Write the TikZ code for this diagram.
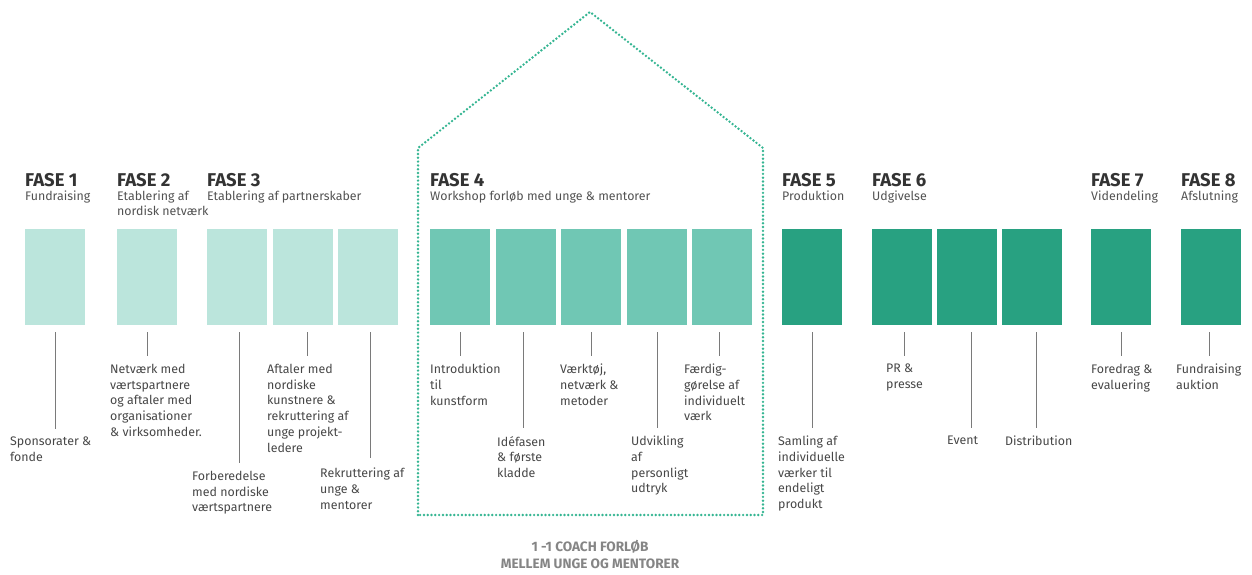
\documentclass[tikz,border=0pt]{standalone}
\usepackage{fontspec}
\setmainfont{Fira Sans}
\usetikzlibrary{positioning}

\definecolor{faselys}{HTML}{BBE5DC}
\definecolor{fasemid}{HTML}{70C7B4}
\definecolor{fasemork}{HTML}{28A181}
\definecolor{husprik}{HTML}{35B592}
\definecolor{tekstgraa}{HTML}{333333}
\definecolor{stregraa}{HTML}{7A7A7A}

\begin{document}
\begin{tikzpicture}[x=1pt, y=-1pt,
    felt/.style={anchor=north west, minimum width=60pt, minimum height=96pt, inner sep=0pt},
    fase/.style={anchor=base west, inner sep=0pt, text=tekstgraa, font=\fontsize{18.5}{20}\selectfont\bfseries},
    undertekst/.style={anchor=north west, inner sep=0pt, align=left, text=tekstgraa!85, font=\fontsize{12.4}{15}\selectfont},
    punkt/.style={anchor=north west, inner sep=0pt, align=left, text=tekstgraa!90, font=\fontsize{12.4}{15.7}\selectfont},
    streg/.style={draw=stregraa, line width=0.8pt}]

    \useasboundingbox (0,0) rectangle (1252,575);

    % dotted house round fase 4
    \draw[husprik, line width=2.7pt, line cap=round, dash pattern=on 0pt off 3.8pt]
        (418,515) -- (418,148) -- (590,12) -- (763,148) -- (763,515) -- cycle;

    \node[fase] (f1) at (25,186) {FASE 1};
    \node[fase] (f2) at (117,186) {FASE 2};
    \node[fase] (f3) at (207,186) {FASE 3};
    \node[fase] (f4) at (430,186) {FASE 4};
    \node[fase] (f5) at (782,186) {FASE 5};
    \node[fase] (f6) at (872,186) {FASE 6};
    \node[fase] (f7) at (1091,186) {FASE 7};
    \node[fase] (f8) at (1181,186) {FASE 8};

    \node[undertekst] (u1) at (25,191) {Fundraising};
    \node[undertekst] (u2) at (117,191) {Etablering af\\nordisk netværk};
    \node[undertekst] (u3) at (207,191) {Etablering af partnerskaber};
    \node[undertekst] (u4) at (430,191) {Workshop forløb med unge \& mentorer};
    \node[undertekst] (u5) at (782,191) {Produktion};
    \node[undertekst] (u6) at (872,191) {Udgivelse};
    \node[undertekst] (u7) at (1091,191) {Videndeling};
    \node[undertekst] (u8) at (1181,191) {Afslutning};

    \node[felt, fill=faselys] (b1) at (25,229) {};
    \node[felt, fill=faselys] (b2) at (117,229) {};
    \node[felt, fill=faselys] (b31) at (207,229) {};
    \node[felt, fill=faselys] (b32) at (273,229) {};
    \node[felt, fill=faselys] (b33) at (338,229) {};

    \node[felt, fill=fasemid] (b41) at (430,229) {};
    \node[felt, fill=fasemid] (b42) at (496,229) {};
    \node[felt, fill=fasemid] (b43) at (561,229) {};
    \node[felt, fill=fasemid] (b44) at (627,229) {};
    \node[felt, fill=fasemid] (b45) at (692,229) {};

    \node[felt, fill=fasemork] (b5) at (782,229) {};
    \node[felt, fill=fasemork] (b61) at (872,229) {};
    \node[felt, fill=fasemork] (b62) at (937,229) {};
    \node[felt, fill=fasemork] (b63) at (1002,229) {};
    \node[felt, fill=fasemork] (b7) at (1091,229) {};
    \node[felt, fill=fasemork] (b8) at (1181,229) {};

    \node[punkt] (p1) at (10,437) {Sponsorater \&\\fonde};
    \node[punkt] (p2) at (110,364) {Netværk med\\værtspartnere\\og aftaler med\\organisationer\\\& virksomheder.};
    \node[punkt] (p31) at (192,471) {Forberedelse\\med nordiske\\værtspartnere};
    \node[punkt] (p32) at (267,364) {Aftaler med\\nordiske\\kunstnere \&\\rekruttering af\\unge projekt-\\ledere};
    \node[punkt] (p33) at (320,468) {Rekruttering af\\unge \&\\mentorer};

    \node[punkt] (p41) at (430,364) {Introduktion\\til\\kunstform};
    \node[punkt] (p42) at (497,436) {Idéfasen\\\& første\\kladde};
    \node[punkt] (p43) at (560,364) {Værktøj,\\netværk \&\\metoder};
    \node[punkt] (p44) at (631,436) {Udvikling\\af\\personligt\\udtryk};
    \node[punkt] (p45) at (684,364) {Færdig-\\gørelse af\\individuelt\\værk};

    \node[punkt] (p5) at (778,436) {Samling af\\individuelle\\værker til\\endeligt\\produkt};
    \node[punkt] (p61) at (886,364) {PR \&\\presse};
    \node[punkt] (p62) at (947,436) {Event};
    \node[punkt] (p63) at (1005,436) {Distribution};
    \node[punkt] (p7) at (1091,364) {Foredrag \&\\evaluering};
    \node[punkt] (p8) at (1176,364) {Fundraising\\auktion};

    \draw[streg] ([yshift=-7pt]b1.south) -- ([yshift=8pt]b1.south |- p1.north);
    \draw[streg] ([yshift=-7pt]b2.south) -- ([yshift=8pt]b2.south |- p2.north);
    \draw[streg] ([xshift=2pt, yshift=-7pt]b31.south) -- ([xshift=2pt, yshift=8pt]b31.south |- p31.north);
    \draw[streg] ([xshift=4pt, yshift=-7pt]b32.south) -- ([xshift=4pt, yshift=8pt]b32.south |- p32.north);
    \draw[streg] ([xshift=2pt, yshift=-7pt]b33.south) -- ([xshift=2pt, yshift=10pt]b33.south |- p33.north);

    \draw[streg] ([yshift=-7pt]b41.south) -- ([yshift=8pt]b41.south |- p41.north);
    \draw[streg] ([xshift=-3pt, yshift=-7pt]b42.south) -- ([xshift=-3pt, yshift=8pt]b42.south |- p42.north);
    \draw[streg] ([yshift=-7pt]b43.south) -- ([yshift=8pt]b43.south |- p43.north);
    \draw[streg] ([yshift=-7pt]b44.south) -- ([yshift=8pt]b44.south |- p44.north);
    \draw[streg] ([xshift=-3pt, yshift=-7pt]b45.south) -- ([xshift=-3pt, yshift=8pt]b45.south |- p45.north);

    \draw[streg] ([yshift=-7pt]b5.south) -- ([yshift=8pt]b5.south |- p5.north);
    \draw[streg] ([xshift=2pt, yshift=-7pt]b61.south) -- ([xshift=2pt, yshift=8pt]b61.south |- p61.north);
    \draw[streg] ([xshift=4pt, yshift=-7pt]b62.south) -- ([xshift=4pt, yshift=8pt]b62.south |- p62.north);
    \draw[streg] ([xshift=4pt, yshift=-7pt]b63.south) -- ([xshift=4pt, yshift=8pt]b63.south |- p63.north);
    \draw[streg] ([yshift=-7pt]b7.south) -- ([yshift=8pt]b7.south |- p7.north);
    \draw[streg] ([xshift=-2pt, yshift=-7pt]b8.south) -- ([xshift=-2pt, yshift=8pt]b8.south |- p8.north);

    \node[anchor=north, inner sep=0pt, align=center, text=black!48,
          font=\fontsize{13.6}{17}\selectfont\bfseries] (coach) at (590,540)
          {1 -1 COACH FORLØB\\MELLEM UNGE OG MENTORER};

\end{tikzpicture}
\end{document}
